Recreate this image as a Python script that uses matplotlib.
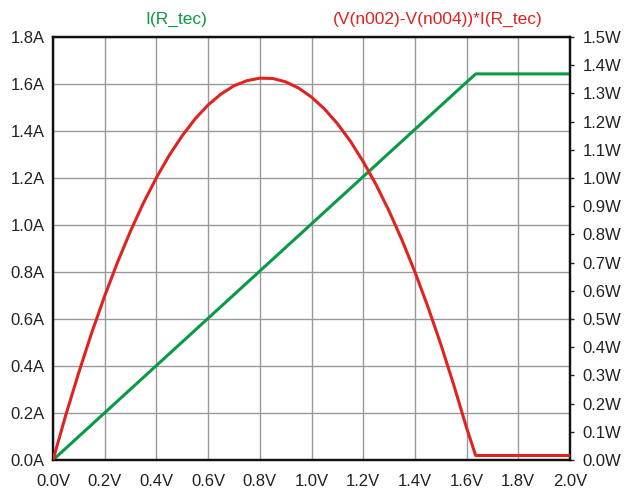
import matplotlib
matplotlib.use("Agg")
import matplotlib.pyplot as plt
from matplotlib.ticker import FuncFormatter, MultipleLocator

plt.rcParams['font.family'] = ['Liberation Sans', 'DejaVu Sans']

# Green trace: I(R_tec) in A vs V
v_i = [0.0, 1.635, 2.0]
i_rtec = [0.0, 1.643, 1.643]

# Red trace: power in W vs V
v_p = [0.0, 0.05, 0.10, 0.15, 0.20, 0.25, 0.30, 0.35, 0.40, 0.45, 0.50,
       0.55, 0.60, 0.65, 0.70, 0.75, 0.80, 0.85, 0.90, 0.95, 1.00,
       1.05, 1.10, 1.15, 1.20, 1.25, 1.30, 1.35, 1.40, 1.45, 1.50,
       1.55, 1.60, 1.635, 2.0]
p_w = [0.0, 0.161, 0.311, 0.452, 0.582, 0.702, 0.812, 0.912, 1.001, 1.081, 1.150,
       1.210, 1.259, 1.298, 1.327, 1.345, 1.354, 1.353, 1.341, 1.319, 1.287,
       1.245, 1.193, 1.131, 1.058, 0.976, 0.883, 0.780, 0.667, 0.544, 0.411,
       0.267, 0.114, 0.016, 0.016]

green = '#0a9a45'
red = '#e0231f'

fig = plt.figure(figsize=(6.25, 4.9), dpi=100)
ax = fig.add_axes([53/625, 1-460/490, (570-53)/625, (460-37)/490])
ax2 = ax.twinx()

ax.plot(v_i, i_rtec, color=green, lw=2.2, zorder=3, solid_joinstyle='round')
ax2.plot(v_p, p_w, color=red, lw=2.2, zorder=3, solid_joinstyle='round')

ax.set_xlim(0, 2.0)
ax.set_ylim(0, 1.8)
ax2.set_ylim(0, 1.5)

ax.xaxis.set_major_locator(MultipleLocator(0.2))
ax.yaxis.set_major_locator(MultipleLocator(0.2))
ax2.yaxis.set_major_locator(MultipleLocator(0.1))
ax.xaxis.set_major_formatter(FuncFormatter(lambda x, p: f"{x:.1f}V"))
ax.yaxis.set_major_formatter(FuncFormatter(lambda y, p: f"{y:.1f}A"))
ax2.yaxis.set_major_formatter(FuncFormatter(lambda y, p: f"{y:.1f}W"))

ax.grid(True, color='#999999', lw=1.0)
ax.set_axisbelow(True)

ax.tick_params(axis='y', length=0, labelsize=12, colors='#222222', pad=6)
ax.tick_params(axis='x', length=0, labelsize=12, colors='#222222', pad=10)
ax2.tick_params(axis='y', length=3, width=1, direction='out', labelsize=12,
                colors='#222222', pad=6)

for a in (ax, ax2):
    for s in a.spines.values():
        s.set_linewidth(1.6)
        s.set_color('#111111')

fig.text(176/625, 1-19/490, "I(R_tec)", color=green, fontsize=12.5,
         ha='center', va='center')
fig.text(438/625, 1-19/490, "(V(n002)-V(n004))*I(R_tec)", color=red,
         fontsize=12.5, ha='center', va='center')

fig.savefig("out.png", dpi=100)
